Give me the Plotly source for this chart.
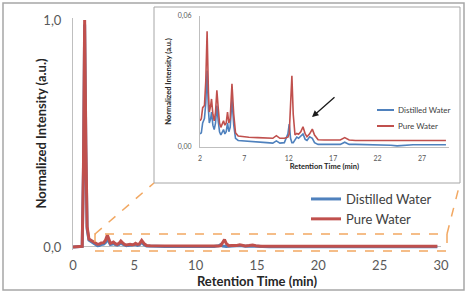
import plotly.graph_objects as go

W, H = 468, 293

# ---- data ----
time_min = [0, 0.5, 0.75, 0.85, 0.95, 1.05, 1.15, 1.3, 1.5, 1.75, 2.0, 2.15, 2.3, 2.5, 2.65, 2.8,
            2.95, 3.05, 3.2, 3.3, 3.45, 3.6, 3.75, 3.9, 4.05, 4.2, 4.35, 4.5, 4.65, 4.8, 4.95,
            5.1, 5.25, 5.4, 5.6, 5.8, 6.0, 6.3, 6.8, 7.5, 8.5, 9.5, 10.2, 10.6, 11.0, 11.5,
            11.9, 12.05, 12.2, 12.35, 12.5, 12.7, 12.9, 13.1, 13.35, 13.6, 13.85, 14.05, 14.35,
            14.65, 14.9, 15.3, 16.0, 17.0, 17.8, 18.3, 18.8, 19.5, 21.0, 22.5, 23.5, 24.2, 25.0,
            26.0, 27.0, 28.0, 29.0, 29.7]

distilled = [0, 0, 0.003, 0.33, 0.98, 0.42, 0.08, 0.03, 0.022, 0.014, 0.006, 0.0065, 0.011, 0.013,
             0.02, 0.035, 0.017, 0.011, 0.013, 0.016, 0.01, 0.008, 0.011, 0.019, 0.012, 0.007,
             0.0055, 0.007, 0.008, 0.006, 0.007, 0.011, 0.007, 0.009, 0.022, 0.01, 0.004, 0.003,
             0.0028, 0.0026, 0.0024, 0.002, 0.0018, 0.0028, 0.0018, 0.002, 0.006, 0.0105, 0.004,
             0.002, 0.002, 0.003, 0.0045, 0.004, 0.005, 0.006, 0.0035, 0.003, 0.0047, 0.004,
             0.002, 0.0012, 0.0012, 0.0012, 0.0012, 0.0022, 0.0012, 0.0012, 0.0011, 0.0012,
             0.0008, 0.0005, 0.0008, 0.001, 0.001, 0.001, 0.001, 0.001]

pure = [0, 0, 0.003, 0.35, 1.0, 0.45, 0.09, 0.035, 0.028, 0.02, 0.012, 0.013, 0.018, 0.019,
        0.03, 0.053, 0.025, 0.016, 0.019, 0.022, 0.015, 0.012, 0.016, 0.026, 0.018, 0.011,
        0.009, 0.011, 0.012, 0.010, 0.011, 0.016, 0.011, 0.013, 0.029, 0.015, 0.0065, 0.005,
        0.0047, 0.0045, 0.0043, 0.0042, 0.004, 0.0052, 0.004, 0.004, 0.0045, 0.006, 0.02,
        0.0326, 0.015, 0.0055, 0.0062, 0.0058, 0.007, 0.0093, 0.006, 0.0047, 0.006, 0.0082,
        0.0055, 0.0033, 0.0032, 0.0032, 0.0032, 0.0043, 0.0032, 0.003, 0.003, 0.003, 0.003,
        0.003, 0.003, 0.003, 0.003, 0.003, 0.003, 0.003]

series_names = ["Distilled Water", "Pure Water"]
main_x_ticks = [0, 5, 10, 15, 20, 25, 30]
main_y_ticks = [0, 1]
inset_x_ticks = [2, 7, 12, 17, 22, 27]
inset_y_ticks = [0, 0.06]
x_title = "Retention Time (min)"
y_title = "Normalized Intensity (a.u.)"

BLUE = "#4F81BD"
RED = "#C0504D"
ORANGE = "#F2A862"
GRAY = "#A6A6A6"
AXIS = "#BFBFBF"
TXT = "#595959"
FONT = "Lato"


def fx(p):
    return p / W


def fy(p):
    return 1 - p / H


fig = go.Figure()

# main chart
for name, vals, col in [(series_names[0], distilled, BLUE), (series_names[1], pure, RED)]:
    fig.add_trace(go.Scatter(x=time_min, y=vals, mode="lines", name=name,
                             line=dict(color=col, width=3), xaxis="x", yaxis="y",
                             legend="legend"))

# inset
idx = [i for i, t in enumerate(time_min) if t >= 2]
inset_t = [time_min[i] for i in idx]
for name, vals, col in [(series_names[0], distilled, BLUE), (series_names[1], pure, RED)]:
    fig.add_trace(go.Scatter(x=inset_t, y=[vals[i] for i in idx], mode="lines", name=name,
                             line=dict(color=col, width=1.6), xaxis="x2", yaxis="y2",
                             showlegend=False))

shapes = [
    # outer frame
    dict(type="rect", xref="paper", yref="paper", x0=fx(3), x1=fx(464), y0=fy(290), y1=fy(3),
         line=dict(color=GRAY, width=1.5), layer="below"),
    # inset box
    dict(type="rect", xref="paper", yref="paper", x0=fx(154), x1=fx(460), y0=fy(183), y1=fy(7),
         line=dict(color=GRAY, width=1), fillcolor="white", layer="below"),
    # dashed zoom rectangle and connectors
    dict(type="rect", xref="paper", yref="paper", x0=fx(95), x1=fx(447), y0=fy(251), y1=fy(234),
         line=dict(color=ORANGE, width=1.5, dash="dash"), layer="above"),
    dict(type="line", xref="paper", yref="paper", x0=fx(95), x1=fx(154), y0=fy(234), y1=fy(183),
         line=dict(color=ORANGE, width=1.5, dash="dash"), layer="above"),
    dict(type="line", xref="paper", yref="paper", x0=fx(447), x1=fx(460), y0=fy(234), y1=fy(183),
         line=dict(color=ORANGE, width=1.5, dash="dash"), layer="above"),
    # inset legend symbols
    dict(type="line", xref="paper", yref="paper", x0=fx(377), x1=fx(394), y0=fy(110), y1=fy(110),
         line=dict(color=BLUE, width=2)),
    dict(type="line", xref="paper", yref="paper", x0=fx(377), x1=fx(394), y0=fy(126), y1=fy(126),
         line=dict(color=RED, width=2)),
]

title_font_main = dict(family=FONT, size=13, color="#262626", weight="bold")
title_font_inset = dict(family=FONT, size=7.5, color="#262626", weight="bold")

annotations = [
    dict(xref="paper", yref="paper", x=fx(396), y=fy(110), text=series_names[0], showarrow=False,
         xanchor="left", yanchor="middle", font=dict(family=FONT, size=8, color="#404040")),
    dict(xref="paper", yref="paper", x=fx(396), y=fy(126), text=series_names[1], showarrow=False,
         xanchor="left", yanchor="middle", font=dict(family=FONT, size=8, color="#404040")),
    dict(xref="paper", yref="paper", x=fx(312), y=fy(117), text="", showarrow=True,
         ax=24, ay=-21, arrowhead=2, arrowsize=1, arrowwidth=1.3, arrowcolor="#1a1a1a"),
    # main y-axis title
    dict(xref="paper", yref="paper", x=fx(40), y=fy(133.5), text=y_title, showarrow=False,
         textangle=-90, xanchor="center", yanchor="middle", font=title_font_main),
]

fig.update_layout(
    width=W, height=H, autosize=False,
    margin=dict(l=0, r=0, t=0, b=0),
    paper_bgcolor="white", plot_bgcolor="rgba(0,0,0,0)",
    separators=",.",
    font=dict(family=FONT, color=TXT),
    xaxis=dict(domain=[fx(73), fx(441)], range=[0, 30], tickvals=main_x_ticks,
               showgrid=False, zeroline=False, showline=False, ticks="",
               tickfont=dict(family=FONT, size=13, color=TXT), ticklabelstandoff=6,
               title=dict(text=x_title, font=title_font_main, standoff=4), automargin=False),
    yaxis=dict(domain=[fy(249.7), fy(17.7)], range=[-0.012, 1.01], tickvals=main_y_ticks,
               tickformat=".1f", showgrid=False, zeroline=True, zerolinecolor=AXIS,
               zerolinewidth=1, showline=True, linecolor=AXIS, linewidth=1, ticks="",
               tickfont=dict(family=FONT, size=13, color=TXT), ticklabelstandoff=8,
               automargin=False),
    xaxis2=dict(domain=[fx(200), fx(448.6)], range=[2, 30], tickvals=inset_x_ticks,
                anchor="y2", showgrid=False, zeroline=False, showline=True, linecolor=AXIS,
                linewidth=1, ticks="", tickfont=dict(family=FONT, size=7, color=TXT),
                ticklabelstandoff=5,
                title=dict(text=x_title, font=title_font_inset, standoff=2), automargin=False),
    yaxis2=dict(domain=[fy(147), fy(16)], range=[0, 0.06], tickvals=inset_y_ticks,
                tickformat=".2f", anchor="x2", showgrid=False, zeroline=False, showline=True,
                linecolor=AXIS, linewidth=1, ticks="", tickfont=dict(family=FONT, size=7, color=TXT),
                ticklabelstandoff=6,
                title=dict(text=y_title, font=title_font_inset, standoff=5), automargin=False),
    legend=dict(x=fx(306), y=fy(184), xanchor="left", yanchor="top", bgcolor="rgba(0,0,0,0)",
                font=dict(family=FONT, size=13, color="#404040"), tracegroupgap=0,
                itemwidth=30),
    shapes=shapes,
    annotations=annotations,
)

fig.write_html("out.html")
